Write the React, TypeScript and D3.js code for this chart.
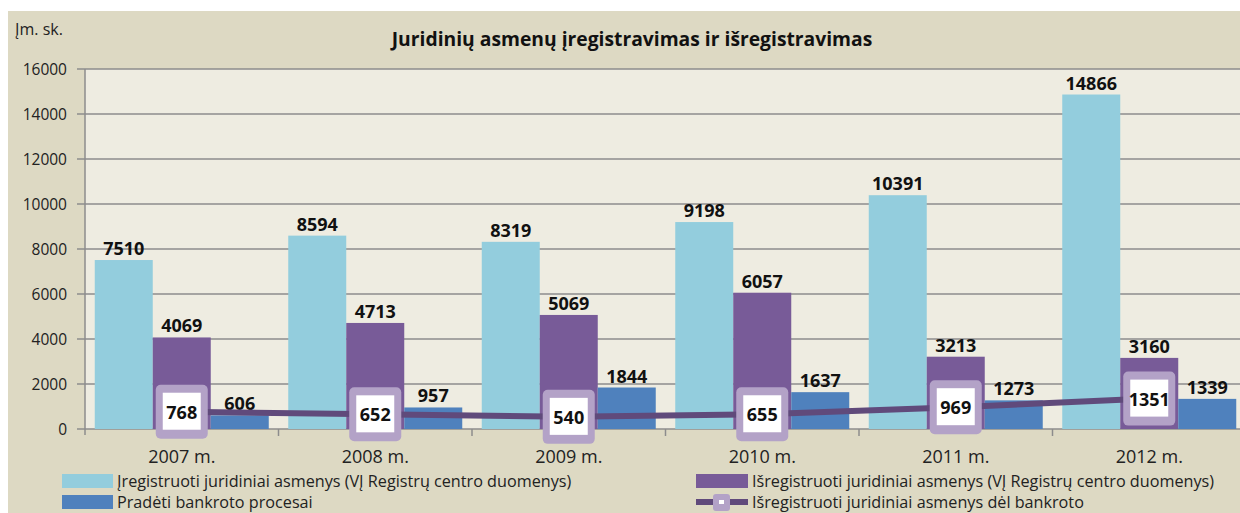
import React from "react";
import * as d3 from "d3";

const categories = ["2007 m.", "2008 m.", "2009 m.", "2010 m.", "2011 m.", "2012 m."];
const registered = [7510, 8594, 8319, 9198, 10391, 14866];
const deregistered = [4069, 4713, 5069, 6057, 3213, 3160];
const bankruptcyStarted = [606, 957, 1844, 1637, 1273, 1339];
const deregBankruptcy = [768, 652, 540, 655, 969, 1351];
const yTicks = [0, 2000, 4000, 6000, 8000, 10000, 12000, 14000, 16000];

const seriesNames = [
  "Įregistruoti juridiniai asmenys (VĮ Registrų centro duomenys)",
  "Išregistruoti juridiniai asmenys (VĮ Registrų centro duomenys)",
  "Pradėti bankroto procesai",
  "Išregistruoti juridiniai asmenys dėl bankroto",
];

const C_LIGHT = "#93cddd";
const C_PURPLE = "#785b98";
const C_BLUE = "#4f81bd";
const C_LINE = "#604a7b";
const C_MARK = "#b3a2c7";
const FONT = "'Open Sans', 'Noto Sans', sans-serif";

export default function App() {
  const W = 1240, H = 513;
  const plotL = 85, plotR = 1246, plotT = 69, plotB = 429;
  const x = d3.scaleBand<string>().domain(categories).range([plotL, plotR]).paddingInner(0).paddingOuter(0);
  const y = d3.scaleLinear().domain([0, 16000]).range([plotB, plotT]);
  const barW = 58;
  const groupOff = (x.bandwidth() - 3 * barW) / 2;
  const bx = (i: number, k: number) => (x(categories[i]) as number) + groupOff + k * barW;
  const series = [registered, deregistered, bankruptcyStarted];
  const colors = [C_LIGHT, C_PURPLE, C_BLUE];
  const line = d3
    .line<number>()
    .x((_, i) => bx(i, 1) + barW / 2)
    .y((d) => y(d));

  return (
    <svg width={W} height={H} style={{ position: "absolute", left: 0, top: 0, display: "block" }} fontFamily={FONT}>
      <rect x={0} y={0} width={W} height={H} fill="#ffffff" />
      <rect x={8} y={11} width={W - 8} height={H - 11} fill="#ddd9c3" />
      <rect x={plotL} y={plotT} width={W - plotL} height={plotB - plotT} fill="#eeece1" />
      <text x={15} y={35} fontSize={16} fill="#222">Įm. sk.</text>
      <text x={632} y={46} fontSize={19.3} fontWeight="bold" textAnchor="middle" fill="#111">
        Juridinių asmenų įregistravimas ir išregistravimas
      </text>
      {yTicks.map((t) => (
        <g key={t}>
          <line x1={plotL - 8} x2={W} y1={y(t)} y2={y(t)} stroke="#8c8c8c" strokeWidth={1.5} />
          <text x={67} y={y(t) + 6} fontSize={15.5} textAnchor="end" fill="#222">{t}</text>
        </g>
      ))}
      <line x1={plotL} x2={plotL} y1={plotT} y2={plotB + 6} stroke="#8c8c8c" strokeWidth={1.5} />
      {categories.map((c) => (
        <line key={c} x1={(x(c) as number) + x.bandwidth()} x2={(x(c) as number) + x.bandwidth()} y1={plotB} y2={plotB + 7} stroke="#8c8c8c" strokeWidth={1.5} />
      ))}
      {series.map((s, k) =>
        s.map((v, i) => (
          <rect key={`${k}-${i}`} x={bx(i, k)} y={y(v)} width={barW} height={plotB - y(v)} fill={colors[k]} />
        ))
      )}
      {series.map((s, k) =>
        s.map((v, i) => (
          <text key={`l${k}-${i}`} x={bx(i, k) + barW / 2} y={y(v) - 5} fontSize={18} fontWeight="bold" textAnchor="middle" fill="#111">
            {v}
          </text>
        ))
      )}
      <path d={line(deregBankruptcy) as string} fill="none" stroke={C_LINE} strokeWidth={6} />
      {deregBankruptcy.map((v, i) => {
        const cx = bx(i, 1) + barW / 2;
        const cy = y(v);
        return (
          <g key={`m${i}`}>
            <rect x={cx - 26} y={cy - 27} width={52} height={54} rx={5} fill={C_MARK} />
            <rect x={cx - 19} y={cy - 19} width={38} height={37} fill="#ffffff" />
            <text x={cx} y={cy + 7} fontSize={18} fontWeight="bold" textAnchor="middle" fill="#111">{v}</text>
          </g>
        );
      })}
      {categories.map((c) => (
        <text key={`x${c}`} x={(x(c) as number) + x.bandwidth() / 2} y={463} fontSize={18} textAnchor="middle" fill="#222">{c}</text>
      ))}
      {/* legend */}
      <rect x={62} y={474} width={51} height={14} fill={C_LIGHT} />
      <text x={117} y={487} fontSize={16.2} fill="#222">{seriesNames[0]}</text>
      <rect x={696} y={474} width={52} height={14} fill={C_PURPLE} />
      <text x={752} y={487} fontSize={16.2} fill="#222">{seriesNames[1]}</text>
      <rect x={62} y={495} width={51} height={14} fill={C_BLUE} />
      <text x={117} y={508} fontSize={16.2} fill="#222">{seriesNames[2]}</text>
      <line x1={696} x2={748} y1={502} y2={502} stroke={C_LINE} strokeWidth={6} />
      <rect x={713} y={494} width={17} height={17} rx={3} fill={C_MARK} />
      <rect x={719} y={500} width={5} height={4} fill="#ffffff" />
      <text x={752} y={508} fontSize={16.2} fill="#222">{seriesNames[3]}</text>
    </svg>
  );
}
